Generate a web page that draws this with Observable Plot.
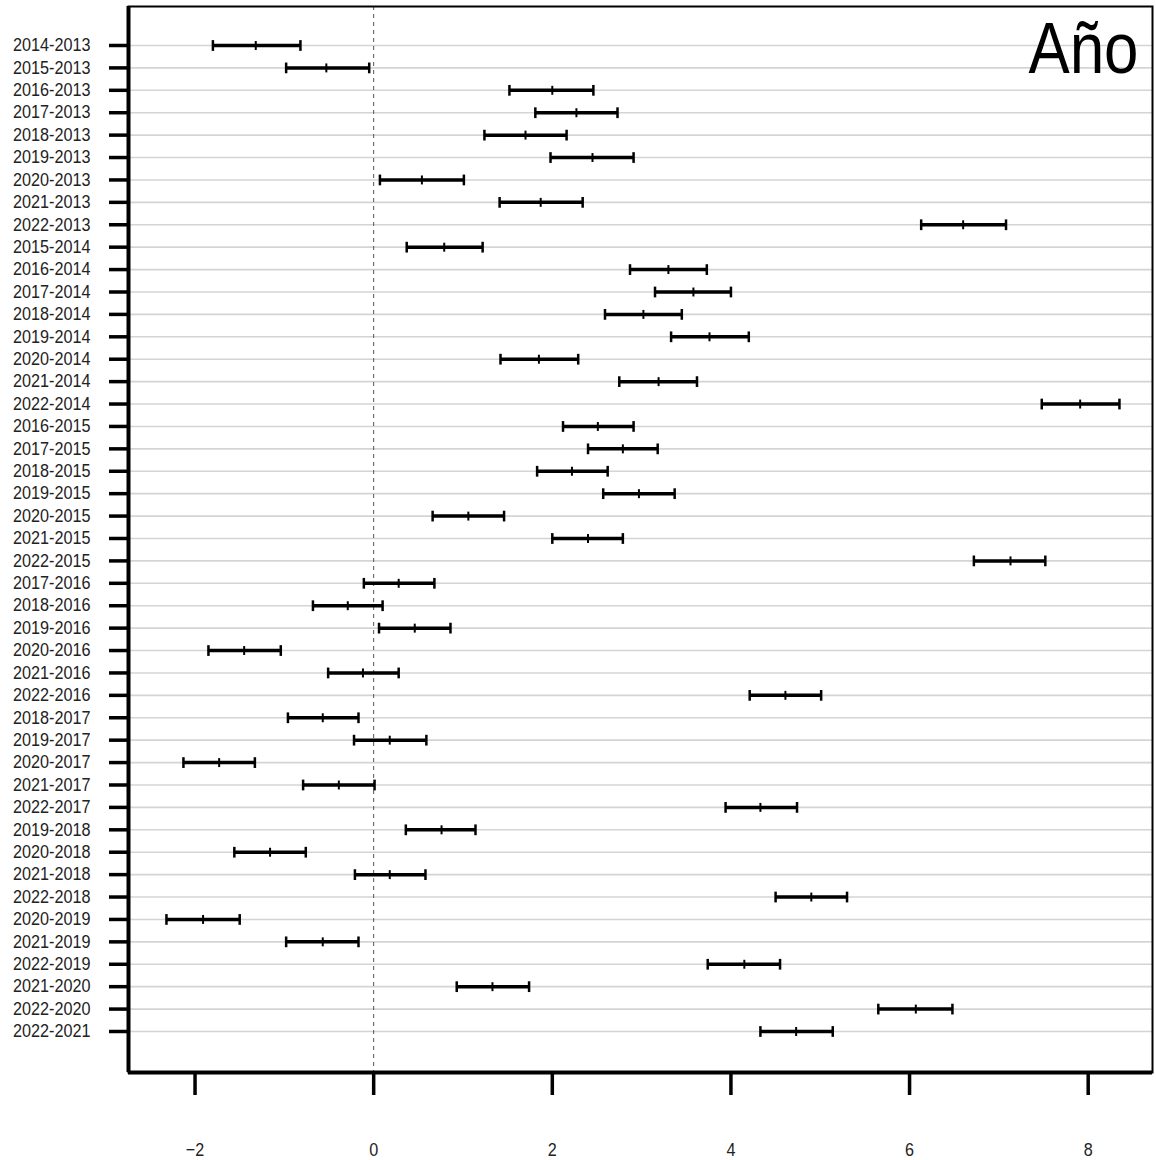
<!DOCTYPE html>
<html>
<head>
<meta charset="utf-8">
<script src="https://cdn.jsdelivr.net/npm/d3@7"></script>
<script src="https://cdn.jsdelivr.net/npm/@observablehq/plot@0.6"></script>
<style>
  html, body { margin: 0; padding: 0; background: #fff; }
  #chart svg { display: block; }
</style>
</head>
<body>
<div id="chart"></div>
<script>
const comparisons = [
  "2014-2013","2015-2013","2016-2013","2017-2013","2018-2013","2019-2013","2020-2013","2021-2013","2022-2013",
  "2015-2014","2016-2014","2017-2014","2018-2014","2019-2014","2020-2014","2021-2014","2022-2014",
  "2016-2015","2017-2015","2018-2015","2019-2015","2020-2015","2021-2015","2022-2015",
  "2017-2016","2018-2016","2019-2016","2020-2016","2021-2016","2022-2016",
  "2018-2017","2019-2017","2020-2017","2021-2017","2022-2017",
  "2019-2018","2020-2018","2021-2018","2022-2018",
  "2020-2019","2021-2019","2022-2019",
  "2021-2020","2022-2020",
  "2022-2021"
];
const lwr = [
  -1.80,-0.98,1.52,1.81,1.24,1.98,0.07,1.41,6.13,
  0.37,2.87,3.15,2.59,3.33,1.42,2.75,7.48,
  2.12,2.40,1.83,2.57,0.66,2.00,6.72,
  -0.11,-0.68,0.06,-1.85,-0.51,4.21,
  -0.96,-0.22,-2.13,-0.79,3.94,
  0.36,-1.56,-0.21,4.50,
  -2.32,-0.98,3.74,
  0.93,5.65,
  4.33
];
const diff = [
  -1.32,-0.53,2.00,2.27,1.70,2.45,0.54,1.87,6.60,
  0.79,3.30,3.58,3.02,3.76,1.85,3.19,7.91,
  2.51,2.79,2.22,2.97,1.06,2.40,7.13,
  0.28,-0.29,0.46,-1.45,-0.12,4.61,
  -0.57,0.18,-1.73,-0.39,4.33,
  0.76,-1.16,0.18,4.90,
  -1.91,-0.57,4.15,
  1.33,6.07,
  4.73
];
const upr = [
  -0.82,-0.05,2.46,2.73,2.16,2.91,1.01,2.34,7.08,
  1.22,3.73,4.00,3.45,4.20,2.29,3.62,8.35,
  2.91,3.18,2.62,3.37,1.46,2.79,7.52,
  0.68,0.10,0.86,-1.04,0.28,5.01,
  -0.17,0.59,-1.33,0.01,4.74,
  1.14,-0.76,0.58,5.30,
  -1.50,-0.17,4.55,
  1.74,6.48,
  5.14
];
const xTicks = [-2, 0, 2, 4, 6, 8];
const title = "Año";

const rows = comparisons.map((c, i) => ({ i, c, lwr: lwr[i], diff: diff[i], upr: upr[i] }));
const idx = d3.range(comparisons.length);
const xDomain = [-2.745, 8.72];
const yDomain = [-1.74, comparisons.length - 1 + 1.83];
const font = "'Liberation Sans', Arial, sans-serif";

const chart = Plot.plot({
  width: 1156,
  height: 1160,
  marginLeft: 128,
  marginRight: 4,
  marginTop: 6,
  marginBottom: 88,
  style: { background: "#fff", fontFamily: font },
  x: { domain: xDomain },
  y: { domain: yDomain, reverse: true },
  marks: [
    Plot.ruleY(idx, { y: d => d, stroke: "#d4d4d4", strokeWidth: 1.6 }),
    Plot.ruleX([0], { stroke: "#555", strokeWidth: 1, strokeDasharray: "4,4" }),
    Plot.ruleY(rows, { y: "i", x1: "lwr", x2: "upr", stroke: "#000", strokeWidth: 3.5 }),
    Plot.link(rows, { x1: "lwr", x2: "lwr", y1: d => d.i - 0.24, y2: d => d.i + 0.24, stroke: "#000", strokeWidth: 2.5 }),
    Plot.link(rows, { x1: "upr", x2: "upr", y1: d => d.i - 0.24, y2: d => d.i + 0.24, stroke: "#000", strokeWidth: 2.5 }),
    Plot.link(rows, { x1: "diff", x2: "diff", y1: d => d.i - 0.2, y2: d => d.i + 0.2, stroke: "#000", strokeWidth: 2 }),
    Plot.frame({ stroke: "#000", strokeWidth: 2 }),
    Plot.ruleX([xDomain[0]], { stroke: "#000", strokeWidth: 4 }),
    Plot.ruleY([yDomain[1]], { stroke: "#000", strokeWidth: 4 }),
    Plot.axisY(idx, {
      tickFormat: i => comparisons[i],
      tickSize: 19, tickPadding: 19, strokeWidth: 3.5,
      fontSize: 18, fill: "#222", label: null
    }),
    Plot.axisX(xTicks, {
      tickFormat: d => d < 0 ? "−" + Math.abs(d) : String(d),
      tickSize: 23, tickPadding: 47, strokeWidth: 3.5,
      fontSize: 19, fill: "#222", label: null
    }),
    Plot.text([title], {
      frameAnchor: "top-right", dx: -14, dy: 15,
      fontSize: 72, fill: "#000", textAnchor: "end", lineAnchor: "top", fontFamily: font
    })
  ]
});
document.getElementById("chart").appendChild(chart);

// condense glyphs horizontally (the reference uses a narrow face)
function condense(sel, factor, fixed) {
  chart.querySelectorAll(sel).forEach(t => {
    const w = t.getComputedTextLength();
    t.setAttribute("textLength", fixed ? fixed : (w * factor).toFixed(1));
    t.setAttribute("lengthAdjust", "spacingAndGlyphs");
  });
}
condense('g[aria-label="y-axis tick label"] text', 0.9);
condense('g[aria-label="x-axis tick label"] text', 0.85);
condense('g[aria-label="text"] text', 0, 110);
</script>
</body>
</html>
